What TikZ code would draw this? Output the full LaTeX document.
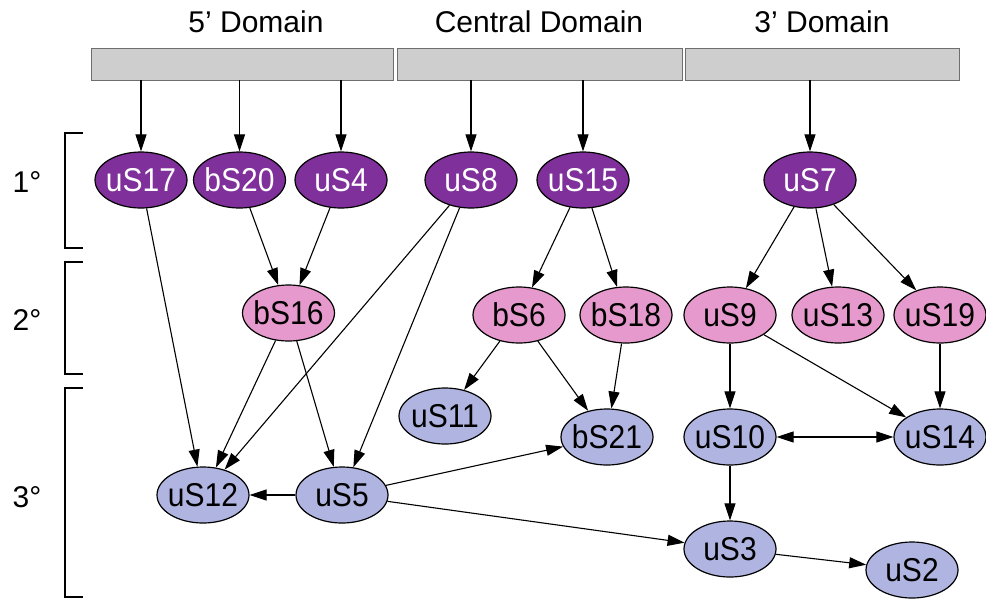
\documentclass[tikz,border=0pt]{standalone}
\usepackage{fontspec}
\setmainfont{Liberation Sans}
\usetikzlibrary{shapes.geometric,arrows.meta}
\definecolor{primcol}{RGB}{128,48,154}
\definecolor{seccol}{RGB}{230,153,204}
\definecolor{tercol}{RGB}{176,180,224}
\definecolor{barcol}{RGB}{206,206,206}
\definecolor{baredge}{RGB}{110,110,110}
% protein labels are set slightly tall; zero width so the ellipse keeps its fixed size
\newcommand{\protlabel}[1]{\makebox[0pt]{\scalebox{1}[1.1]{#1}}}
\tikzset{
  prot/.style={ellipse, draw=black, line width=1.2pt, minimum width=92pt, minimum height=56pt,
    inner sep=0pt, font=\fontsize{30}{30}\selectfont},
  prim/.style={prot, fill=primcol, text=white},
  sec/.style={prot, fill=seccol, text=black},
  ter/.style={prot, fill=tercol, text=black},
  domainbar/.style={draw=baredge, line width=1pt, fill=barcol, inner sep=0pt},
  domlabel/.style={font=\fontsize{30}{30}\selectfont},
  lvl/.style={font=\fontsize{30}{30}\selectfont},
  bind/.style={line width=1.1pt, -{Triangle[length=17pt,width=11pt]}},
  bracket/.style={line width=1.5pt}
}
\begin{document}
\begin{tikzpicture}[x=1pt,y=-1pt]
\useasboundingbox (0,0) rectangle (986,598);

% domain headings and bars
\node[domlabel] (t5) at (256,22) {5’ Domain};
\node[domlabel] (tc) at (539,22) {Central Domain};
\node[domlabel] (t3) at (822,22) {3’ Domain};
\draw[domainbar] (91,48) rectangle (393,80);
\draw[domainbar] (397,48) rectangle (682,80);
\draw[domainbar] (685,48) rectangle (959,80);
\coordinate (d1) at (141,80);
\coordinate (d2) at (239.5,80);
\coordinate (d3) at (341,80);
\coordinate (d4) at (471,80);
\coordinate (d5) at (583,80);
\coordinate (d6) at (810,80);

% assembly levels
\node[lvl] (l1) at (27,182) {1°};
\node[lvl] (l2) at (27,320) {2°};
\node[lvl] (l3) at (27,497) {3°};
\draw[bracket] (83,133) -- (65,133) -- (65,248) -- (83,248);
\draw[bracket] (83,262) -- (65,262) -- (65,374) -- (83,374);
\draw[bracket] (83,388) -- (65,388) -- (65,597) -- (83,597);

% primary binders
\node[prim] (uS17) at (141,180) {\protlabel{uS17}};
\node[prim] (bS20) at (239.5,180) {\protlabel{bS20}};
\node[prim] (uS4) at (341,180) {\protlabel{uS4}};
\node[prim] (uS8) at (471,180) {\protlabel{uS8}};
\node[prim] (uS15) at (583,180) {\protlabel{uS15}};
\node[prim] (uS7) at (810,180) {\protlabel{uS7}};

% secondary binders
\node[sec] (bS16) at (288.5,313) {\protlabel{bS16}};
\node[sec] (bS6) at (519,315) {\protlabel{bS6}};
\node[sec] (bS18) at (626,315) {\protlabel{bS18}};
\node[sec] (uS9) at (730,315) {\protlabel{uS9}};
\node[sec] (uS13) at (838,315) {\protlabel{uS13}};
\node[sec] (uS19) at (940,315) {\protlabel{uS19}};

% tertiary binders
\node[ter] (uS11) at (445,416) {\protlabel{uS11}};
\node[ter] (bS21) at (607,437) {\protlabel{bS21}};
\node[ter] (uS10) at (730,437) {\protlabel{uS10}};
\node[ter] (uS14) at (940,437) {\protlabel{uS14}};
\node[ter] (uS12) at (203,495) {\protlabel{uS12}};
\node[ter] (uS5) at (342,495) {\protlabel{uS5}};
\node[ter] (uS3) at (730,549) {\protlabel{uS3}};
\node[ter] (uS2) at (912,570) {\protlabel{uS2}};

% binding to rRNA domains
\draw[bind] (d1) -- (uS17);
\draw[bind] (d2) -- (bS20);
\draw[bind] (d3) -- (uS4);
\draw[bind] (d4) -- (uS8);
\draw[bind] (d5) -- (uS15);
\draw[bind] (d6) -- (uS7);

% assembly dependencies
\draw[bind] (uS17) -- (uS12);
\draw[bind] (bS20) -- (bS16);
\draw[bind] (uS4) -- (bS16);
\draw[bind] (uS8) -- (uS12);
\draw[bind] (uS8) -- (uS5);
\draw[bind] (uS15) -- (bS6);
\draw[bind] (uS15) -- (bS18);
\draw[bind] (uS7) -- (uS9);
\draw[bind] (uS7) -- (uS13);
\draw[bind] (uS7) -- (uS19);
\draw[bind] (bS16) -- (uS12);
\draw[bind] (bS16) -- (uS5);
\draw[bind] (bS6) -- (uS11);
\draw[bind] (bS6) -- (bS21);
\draw[bind] (bS18) -- (bS21);
\draw[bind] (uS9) -- (uS10);
\draw[bind] (uS9) -- (uS14);
\draw[bind] (uS19) -- (uS14);
\draw[bind, {Triangle[length=17pt,width=11pt]}-{Triangle[length=17pt,width=11pt]}] (uS10) -- (uS14);
\draw[bind] (uS10) -- (uS3);
\draw[bind] (uS5) -- (uS12);
\draw[bind] (uS5) -- (bS21);
\draw[bind] (uS5) -- (uS3);
\draw[bind] (uS3) -- (uS2);
\end{tikzpicture}
\end{document}
